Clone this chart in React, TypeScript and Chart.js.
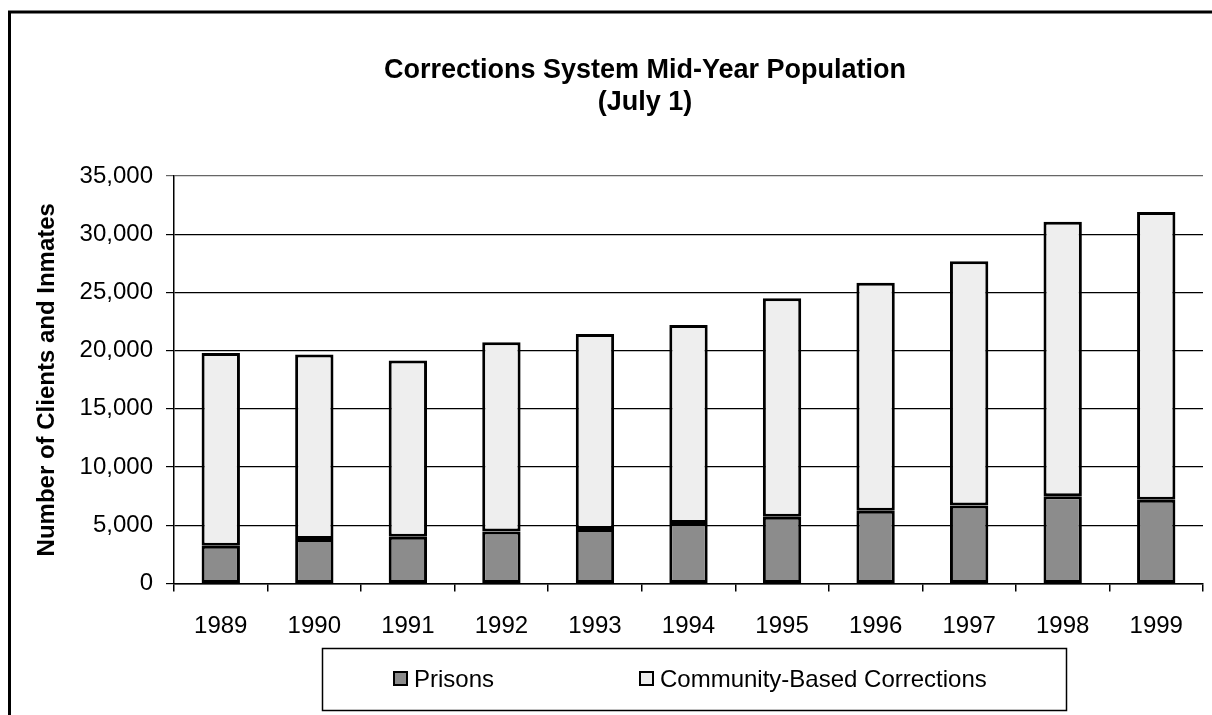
import React, { useEffect, useRef } from 'react';
import { Chart, registerables } from 'chart.js';

Chart.register(...registerables);

const years = ['1989', '1990', '1991', '1992', '1993', '1994', '1995', '1996', '1997', '1998', '1999'];
const prisons = [3250, 3820, 4020, 4470, 4680, 5200, 5740, 6250, 6690, 7490, 7200];
const community = [16550, 15840, 15130, 16250, 16760, 17000, 18750, 19590, 20980, 23570, 24700];
const seriesNames = ['Prisons', 'Community-Based Corrections'];
const seriesColors = ['#8c8c8c', '#eeeeee'];
const titleLines = ['Corrections System Mid-Year Population', '(July 1)'];
const yAxisTitle = 'Number of Clients and Inmates';
const yMax = 35000;
const yStep = 5000;

const FONT = '"Liberation Sans", Arial, Helvetica, sans-serif';

const W = 1212;
const H = 715;

const decorPlugin = {
  id: 'decor',
  beforeDraw(chart: any) {
    const ctx = chart.ctx;
    ctx.save();
    ctx.fillStyle = '#ffffff';
    ctx.fillRect(0, 0, chart.width, chart.height);
    ctx.restore();
  },
  afterDraw(chart: any) {
    const ctx = chart.ctx;
    ctx.save();
    // outer frame (left and top edges visible)
    ctx.strokeStyle = '#000';
    ctx.lineWidth = 3;
    ctx.beginPath();
    ctx.moveTo(9.5, H);
    ctx.lineTo(9.5, 12);
    ctx.lineTo(W, 12);
    ctx.stroke();

    // title
    ctx.fillStyle = '#000';
    ctx.textAlign = 'center';
    ctx.textBaseline = 'middle';
    ctx.font = `bold 27px ${FONT}`;
    ctx.fillText(titleLines[0], 645, 71);
    ctx.fillText(titleLines[1], 645, 103);

    // legend box
    ctx.lineWidth = 1.5;
    ctx.strokeStyle = '#000';
    ctx.strokeRect(322.5, 648.5, 744, 62);
    ctx.font = `24px ${FONT}`;
    ctx.textAlign = 'left';
    const itemX = [394, 640];
    const cy = 680;
    chart.data.datasets.forEach((ds: any, i: number) => {
      const x = itemX[i];
      ctx.fillStyle = ds.backgroundColor;
      ctx.fillRect(x, cy - 8, 13, 13);
      ctx.lineWidth = 2;
      ctx.strokeStyle = '#000';
      ctx.strokeRect(x, cy - 8, 13, 13);
      ctx.fillStyle = '#000';
      ctx.fillText(ds.label, x + 20, cy);
    });
    ctx.restore();
  },
};

export default function App() {
  const ref = useRef<HTMLCanvasElement | null>(null);

  useEffect(() => {
    document.body.style.margin = '0';
    const canvas = ref.current;
    if (!canvas) return;
    const chart = new Chart(canvas, {
      type: 'bar',
      data: {
        labels: years,
        datasets: [
          {
            label: seriesNames[0],
            data: prisons,
            backgroundColor: seriesColors[0],
            borderColor: '#000',
            borderWidth: 3,
            borderSkipped: false,
            barPercentage: 0.41,
            categoryPercentage: 1,
          },
          {
            label: seriesNames[1],
            data: community,
            backgroundColor: seriesColors[1],
            borderColor: '#000',
            borderWidth: 3,
            borderSkipped: false,
            barPercentage: 0.41,
            categoryPercentage: 1,
          },
        ],
      },
      options: {
        responsive: false,
        maintainAspectRatio: false,
        animation: false,
        layout: { padding: { top: 176, left: 25, right: 9, bottom: 60 } },
        plugins: {
          legend: { display: false },
          title: { display: false },
          tooltip: { enabled: false },
        },
        scales: {
          x: {
            stacked: true,
            offset: true,
            grid: {
              display: true,
              offset: true,
              drawOnChartArea: false,
              drawTicks: true,
              tickLength: 8,
              color: '#000',
              lineWidth: 1.5,
            },
            border: { display: true, color: '#000', width: 1.5 },
            ticks: {
              color: '#000',
              padding: 20,
              font: { family: FONT, size: 24 },
              maxRotation: 0,
            },
            afterFit: (scale: any) => {
              scale.height = 71.5;
            },
          },
          y: {
            stacked: true,
            min: 0,
            max: yMax,
            ticks: {
              stepSize: yStep,
              color: '#000',
              padding: 13,
              font: { family: FONT, size: 24 },
              callback: (v: any) => Number(v).toLocaleString('en-US'),
            },
            grid: {
              color: (c: any) => (c.tick && c.tick.value === yMax ? '#666' : '#000'),
              lineWidth: 1.2,
              drawTicks: true,
              tickLength: 8,
            },
            border: { display: true, color: '#000', width: 1.5 },
            title: {
              display: true,
              text: yAxisTitle,
              color: '#000',
              font: { family: FONT, size: 24, weight: 'bold' },
              padding: { top: 8, bottom: 0 },
            },
            afterFit: (scale: any) => {
              scale.width = 149;
            },
          },
        },
      },
      plugins: [decorPlugin],
    });
    return () => chart.destroy();
  }, []);

  return (
    <div style={{ width: W, height: H }}>
      <canvas ref={ref} width={W} height={H} style={{ display: 'block' }} />
    </div>
  );
}
